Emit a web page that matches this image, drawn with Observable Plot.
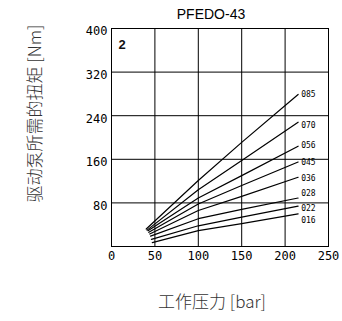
<!DOCTYPE html>
<html>
<head>
<meta charset="utf-8">
<script src="https://cdn.jsdelivr.net/npm/d3@7"></script>
<script src="https://cdn.jsdelivr.net/npm/@observablehq/plot@0.6"></script>
<style>
  html, body { margin: 0; padding: 0; background: white; }
</style>
</head>
<body>
<div id="chart"></div>
<script>
const title = "PFEDO-43";
const panelTag = "2";
const xLabel = "工作压力 [bar]";
const yLabel = "驱动泵所需的扭矩 [Nm]";
const xTicks = [0, 50, 100, 150, 200, 250];
const yTicks = [80, 160, 240, 320, 400];
const xGrid = [50, 100, 150, 200];
const yGrid = [80, 160, 240, 320];

const series = ["085", "070", "056", "045", "036", "028", "022", "016"];
const startX = [40, 41, 42, 43, 44, 45, 46, 47];
const startY = [32, 30, 29, 26, 23, 19, 13, 7];
const x100 = 100, x150 = 150, endX = 215;
const y100 = [121, 104, 89, 78, 66, 51, 38, 29];
const y150 = [191, 158, 130, 112, 92, 68, 54, 42];
const endY = [279, 228, 184, 155, 127, 89, 74, 60];
const labelX = 218.5;
const labelY = [279, 223, 185, 154, 125, 97, 70, 48];

const rows = [];
series.forEach((s, i) => {
  rows.push({series: s, p: startX[i], t: startY[i]});
  rows.push({series: s, p: x100, t: y100[i]});
  rows.push({series: s, p: x150, t: y150[i]});
  rows.push({series: s, p: endX, t: endY[i]});
});
const labels = series.map((s, i) => ({series: s, p: labelX, t: labelY[i]}));

const tickFont = "DejaVu Sans Mono";
const cjkFont = "'Noto Sans CJK SC', sans-serif";

const chart = Plot.plot({
  width: 342,
  height: 321,
  marginLeft: 111,
  marginRight: 14,
  marginTop: 28,
  marginBottom: 75,
  style: {background: "white", color: "black"},
  x: {domain: [0, 250]},
  y: {domain: [0, 400]},
  marks: [
    Plot.gridX(xGrid, {stroke: "black", strokeOpacity: 1, strokeWidth: 1}),
    Plot.gridY(yGrid, {stroke: "black", strokeOpacity: 1, strokeWidth: 1}),
    Plot.frame({stroke: "black", strokeWidth: 1}),
    Plot.axisX(xTicks, {tickSize: 0, tickPadding: 5, fontFamily: tickFont, fontSize: 12, label: null}),
    Plot.axisY(yTicks, {tickSize: 0, tickPadding: 4, dy: 3, fontFamily: tickFont, fontSize: 12, label: null}),
    Plot.line(rows, {x: "p", y: "t", z: "series", stroke: "black", strokeWidth: 1.2}),
    Plot.text(labels, {x: "p", y: "t", text: "series", textAnchor: "start", fontFamily: tickFont, fontSize: 8, fill: "black"}),
    Plot.text([title], {frameAnchor: "top", textAnchor: "middle", dx: -9, dy: -19, fontSize: 14, fontFamily: "'Liberation Sans', Arial, sans-serif", fill: "black"}),
    Plot.text([panelTag], {frameAnchor: "top-left", dx: 7, dy: 11, textAnchor: "start", fontSize: 13, fontWeight: "bold", fontFamily: "'Liberation Sans', Arial, sans-serif", fill: "#111"}),
    Plot.text([yLabel], {frameAnchor: "left", textAnchor: "middle", rotate: -90, dx: -76, dy: -24, fontSize: 17, fontFamily: cjkFont, fontWeight: 300, fill: "#333"}),
    Plot.text([xLabel], {frameAnchor: "bottom", textAnchor: "middle", dx: -8, dy: 61, fontSize: 17, fontFamily: cjkFont, fontWeight: 300, fill: "#333"})
  ]
});
document.getElementById("chart").appendChild(chart);
</script>
</body>
</html>
